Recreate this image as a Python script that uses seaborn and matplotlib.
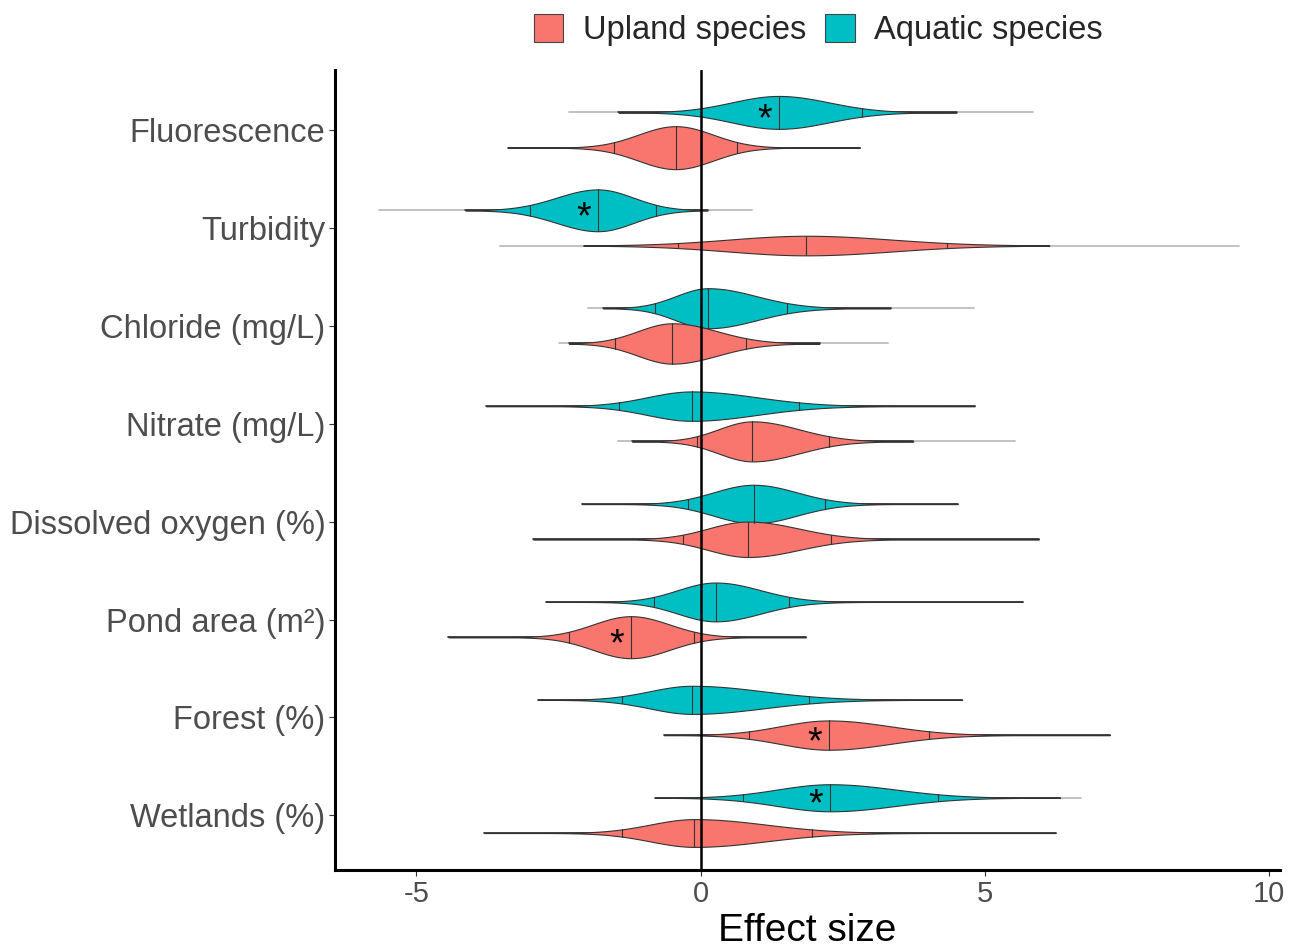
import numpy as np
import pandas as pd
import seaborn as sns
import matplotlib.pyplot as plt
from matplotlib.patches import Patch

# Variaveis (de cima para baixo)
variaveis = ["Fluorescence", "Turbidity", "Chloride (mg/L)", "Nitrate (mg/L)",
             "Dissolved oxygen (%)", "Pond area (m²)", "Forest (%)", "Wetlands (%)"]

# Aquatic species: intervalos e quantis
aq_cinza_lo = [-2.32, -5.66, -1.99, -3.78, -2.09, -2.72, -2.86, -0.80]
aq_cinza_hi = [5.84, 0.90, 4.80, 4.82, 4.52, 5.66, 4.60, 6.68]
aq_preto_lo = [-1.45, -4.14, -1.72, -3.78, -2.09, -2.72, -2.86, -0.80]
aq_preto_hi = [4.50, 0.12, 3.34, 4.82, 4.52, 5.66, 4.60, 6.32]
aq_q05 = [0.01, -3.00, -0.80, -1.44, -0.23, -0.83, -1.39, 0.74]
aq_q50 = [1.37, -1.81, 0.13, -0.16, 0.93, 0.26, -0.15, 2.28]
aq_q95 = [2.83, -0.78, 1.52, 1.72, 2.18, 1.56, 1.91, 4.17]
aq_sig = [True, True, False, False, False, False, False, True]

# Upland species
up_cinza_lo = [-3.39, -3.53, -2.50, -1.46, -2.95, -4.44, -0.65, -3.81]
up_cinza_hi = [2.80, 9.47, 3.29, 5.53, 5.95, 1.85, 7.20, 6.24]
up_preto_lo = [-3.39, -2.06, -2.32, -1.21, -2.95, -4.44, -0.65, -3.81]
up_preto_hi = [2.80, 6.13, 2.09, 3.74, 5.95, 1.85, 7.20, 6.24]
up_q05 = [-1.52, -0.40, -1.50, -0.07, -0.32, -2.32, 0.85, -1.39]
up_q50 = [-0.44, 1.86, -0.50, 0.91, 0.83, -1.23, 2.25, -0.11]
up_q95 = [0.64, 4.34, 0.80, 2.25, 2.30, -0.11, 4.02, 1.95]
up_sig = [False, False, False, False, False, True, True, False]

cor_up = "#F8766D"
cor_aq = "#00BFC4"

sns.set_theme(style="white")
plt.rcParams["font.family"] = ["Liberation Sans", "DejaVu Sans"]

fig = plt.figure(figsize=(12.99, 9.5), dpi=100)
ax = fig.add_axes([0.258, 0.084, 0.727, 0.842])

# forma do violino (densidade com area igual, pico na mediana)
beta = 2.0
zg = np.linspace(0, 10, 5001)
dz = np.exp(-zg ** beta)
cdf = np.concatenate([[0], np.cumsum((dz[1:] + dz[:-1]) / 2 * np.diff(zg))])
cdf = cdf / cdf[-1]
z90 = np.interp(0.9, cdf, zg)
k_largura = 0.474

grupos = [
    ("Aquatic", -0.18, cor_aq, aq_cinza_lo, aq_cinza_hi, aq_preto_lo, aq_preto_hi, aq_q05, aq_q50, aq_q95, aq_sig),
    ("Upland", 0.18, cor_up, up_cinza_lo, up_cinza_hi, up_preto_lo, up_preto_hi, up_q05, up_q50, up_q95, up_sig),
]

# Whiskers com seaborn
linhas = []
for nome, desl, cor, clo, chi, plo, phi, q05, q50, q95, sig in grupos:
    for i in range(len(variaveis)):
        y = i + desl
        linhas.append({"x": clo[i], "y": y, "seg": f"{nome}{i}", "tipo": "cinza"})
        linhas.append({"x": chi[i], "y": y, "seg": f"{nome}{i}", "tipo": "cinza"})
        linhas.append({"x": plo[i], "y": y, "seg": f"{nome}{i}", "tipo": "preto"})
        linhas.append({"x": phi[i], "y": y, "seg": f"{nome}{i}", "tipo": "preto"})
tabela = pd.DataFrame(linhas)

sns.lineplot(data=tabela[tabela["tipo"] == "cinza"], x="x", y="y", units="seg",
             estimator=None, sort=False, color="#BDBDBD", linewidth=1.3, ax=ax, zorder=1)
sns.lineplot(data=tabela[tabela["tipo"] == "preto"], x="x", y="y", units="seg",
             estimator=None, sort=False, color="#262626", linewidth=1.1, ax=ax, zorder=2)

# Violinos
for nome, desl, cor, clo, chi, plo, phi, q05, q50, q95, sig in grupos:
    for i in range(len(variaveis)):
        y = i + desl
        m = q50[i]
        sl = (m - q05[i]) / z90
        sr = (q95[i] - m) / z90
        pico = k_largura / (q95[i] - q05[i])

        def meia(x):
            z = np.where(x < m, (m - x) / sl, (x - m) / sr)
            return pico * np.exp(-np.abs(z) ** beta)

        xs = np.linspace(plo[i], phi[i], 400)
        h = meia(xs)
        ax.fill_between(xs, y - h, y + h, facecolor=cor, edgecolor="#333333",
                        linewidth=0.8, zorder=3)
        for q in [q05[i], q50[i], q95[i]]:
            hq = meia(np.array(q))
            ax.plot([q, q], [y - hq, y + hq], color="#333333", lw=0.8, zorder=4)
        if sig[i]:
            ax.text(m - 0.25, y + 0.08, "*", fontsize=27, ha="center", va="center",
                    color="black", zorder=5)

ax.axvline(0, color="black", lw=1.8, zorder=6)

ax.set_xlim(-6.43, 10.18)
ax.set_ylim(7.56, -0.61)
ax.set_yticks(range(len(variaveis)))
ax.set_yticklabels(variaveis)
ax.set_xticks([-5, 0, 5, 10])
ax.set_xticklabels(["-5", "0", "5", "10"])
ax.set_ylabel("")
ax.set_xlabel("Effect size", fontsize=28, color="black", labelpad=4)

for lado in ["top", "right"]:
    ax.spines[lado].set_visible(False)
for lado in ["left", "bottom"]:
    ax.spines[lado].set_color("black")
    ax.spines[lado].set_linewidth(2.2)

ax.tick_params(axis="y", length=4, width=0.8, color="#333333", labelcolor="#4D4D4D",
               labelsize=23.5, pad=3, left=True)
ax.tick_params(axis="x", length=4, width=0.8, color="#333333", labelcolor="#4D4D4D",
               labelsize=21, pad=3, bottom=True)

# Legenda
handles = [Patch(facecolor=cor_up, edgecolor="#444444", linewidth=0.8),
           Patch(facecolor=cor_aq, edgecolor="#444444", linewidth=0.8)]
fig.legend(handles, ["Upland species", "Aquatic species"], loc="center",
           bbox_to_anchor=(0.63, 0.968), ncol=2, frameon=False, fontsize=23.5,
           handlelength=0.9, handleheight=0.9, handletextpad=0.6, columnspacing=0.6)

fig.savefig("out.png", dpi=100)
